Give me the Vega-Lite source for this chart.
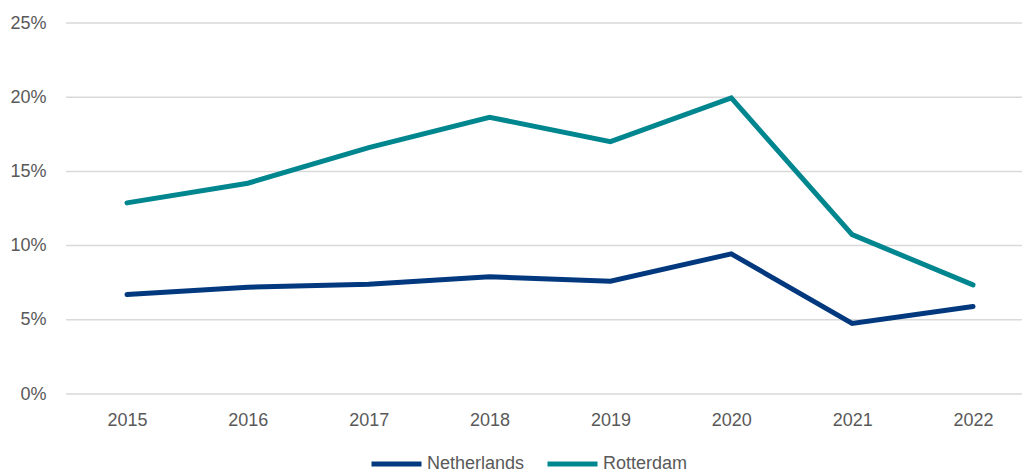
{
  "$schema": "https://vega.github.io/schema/vega-lite/v6.json",
  "autosize": "none",
  "width": 956,
  "height": 371,
  "padding": {"left": 66, "top": 23, "right": 6, "bottom": 78},
  "background": "white",
  "datasets": {
    "grid": [{"v": 0}, {"v": 0.05}, {"v": 0.1}, {"v": 0.15}, {"v": 0.2}, {"v": 0.25}],
    "series": [
      {"year": "2015", "series": "Netherlands", "value": 0.067},
      {"year": "2016", "series": "Netherlands", "value": 0.072},
      {"year": "2017", "series": "Netherlands", "value": 0.074},
      {"year": "2018", "series": "Netherlands", "value": 0.079},
      {"year": "2019", "series": "Netherlands", "value": 0.076},
      {"year": "2020", "series": "Netherlands", "value": 0.0944},
      {"year": "2021", "series": "Netherlands", "value": 0.0476},
      {"year": "2022", "series": "Netherlands", "value": 0.059},
      {"year": "2015", "series": "Rotterdam", "value": 0.1288},
      {"year": "2016", "series": "Rotterdam", "value": 0.142},
      {"year": "2017", "series": "Rotterdam", "value": 0.166},
      {"year": "2018", "series": "Rotterdam", "value": 0.1865},
      {"year": "2019", "series": "Rotterdam", "value": 0.170},
      {"year": "2020", "series": "Rotterdam", "value": 0.1995},
      {"year": "2021", "series": "Rotterdam", "value": 0.1074},
      {"year": "2022", "series": "Rotterdam", "value": 0.0735}
    ]
  },
  "layer": [
    {
      "data": {"name": "grid"},
      "mark": {"type": "rule", "color": "#d9d9d9", "strokeWidth": 1.5},
      "encoding": {
        "y": {
          "field": "v",
          "type": "quantitative",
          "scale": {"domain": [0, 0.25], "nice": false},
          "axis": {
            "title": null,
            "values": [0, 0.05, 0.1, 0.15, 0.2, 0.25],
            "format": ".0%",
            "domain": false,
            "ticks": false,
            "grid": false,
            "labelFont": "Liberation Sans",
            "labelFontSize": 18,
            "labelColor": "#595959",
            "labelPadding": 20
          }
        }
      }
    },
    {
      "data": {"name": "series"},
      "mark": {"type": "line", "strokeWidth": 5, "strokeCap": "round", "strokeJoin": "miter"},
      "encoding": {
        "x": {
          "field": "year",
          "type": "ordinal",
          "scale": {"type": "point", "padding": 0, "range": [61, 907]},
          "axis": {
            "title": null,
            "domain": false,
            "ticks": false,
            "grid": false,
            "labelAngle": 0,
            "labelFont": "Liberation Sans",
            "labelFontSize": 18,
            "labelColor": "#595959",
            "labelPadding": 17
          }
        },
        "y": {"field": "value", "type": "quantitative"},
        "color": {
          "field": "series",
          "type": "nominal",
          "scale": {"domain": ["Netherlands", "Rotterdam"], "range": ["#02387E", "#00868F"]},
          "legend": {
            "title": null,
            "orient": "none",
            "direction": "horizontal",
            "legendX": 303,
            "legendY": 431,
            "clipHeight": 20,
            "symbolType": "stroke",
            "symbolSize": 2500,
            "symbolStrokeWidth": 5,
            "labelFont": "Liberation Sans",
            "labelFontSize": 18,
            "labelColor": "#595959",
            "labelOffset": 3,
            "columnPadding": 20
          }
        }
      }
    }
  ],
  "config": {"view": {"stroke": null}}
}
